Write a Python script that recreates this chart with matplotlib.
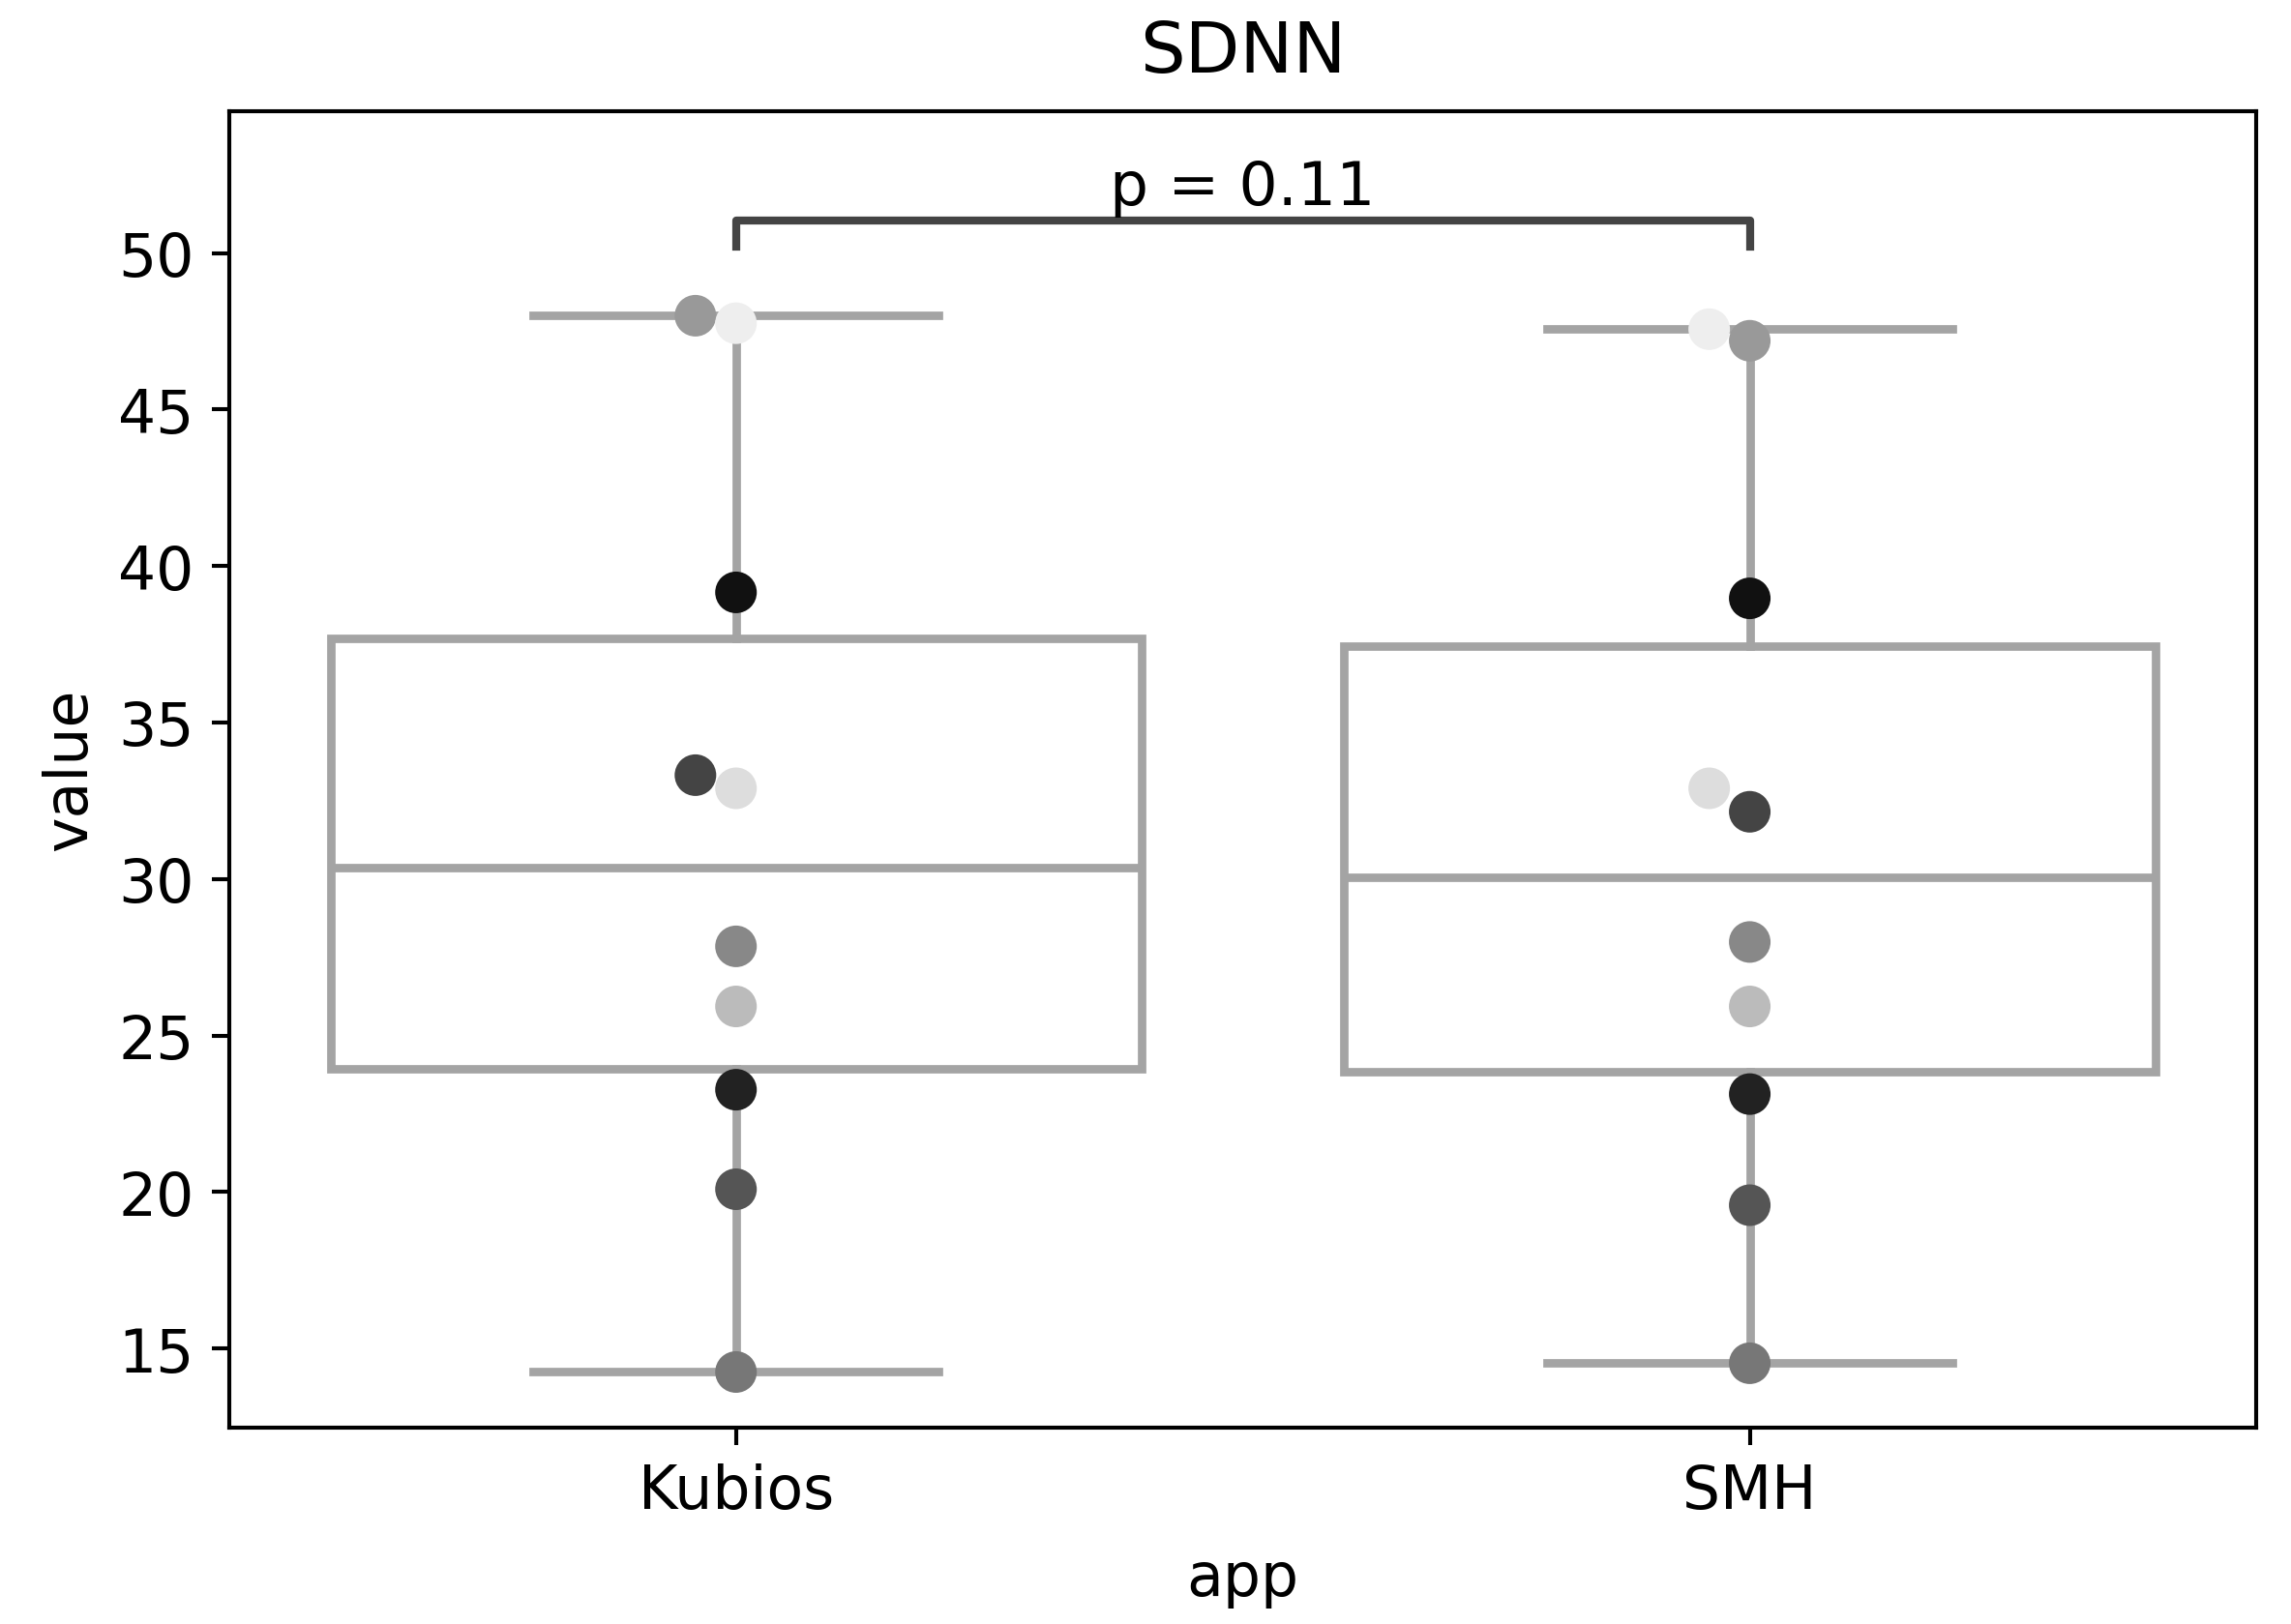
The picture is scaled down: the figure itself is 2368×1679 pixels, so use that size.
import numpy as np
import matplotlib
matplotlib.use("Agg")
import matplotlib.pyplot as plt

# SDNN per subject
apps = ["Kubios", "SMH"]
subject_colors = ["#999999", "#eeeeee", "#111111", "#444444", "#dddddd",
                  "#888888", "#bbbbbb", "#222222", "#555555", "#777777"]
kubios = [48.0, 47.76, 39.16, 33.32, 32.9, 27.85, 25.93, 23.27, 20.09, 14.25]
smh = [47.2, 47.57, 38.97, 32.15, 32.9, 27.99, 25.93, 23.13, 19.58, 14.53]
p_text = "p = 0.11"

plt.rcParams["font.size"] = 12

fig, ax = plt.subplots(figsize=(6.4, 4.54), dpi=370)
fig.subplots_adjust(left=0.1, right=0.985, top=0.931, bottom=0.121)

grey = "#a4a4a4"
ax.boxplot([kubios, smh], positions=[0, 1], widths=0.8, whis=np.inf,
           patch_artist=True, manage_ticks=False,
           boxprops=dict(facecolor="white", edgecolor=grey, linewidth=1.7),
           medianprops=dict(color=grey, linewidth=1.7),
           whiskerprops=dict(color=grey, linewidth=1.7),
           capprops=dict(color=grey, linewidth=1.7), zorder=1)

# simple swarm: lower values sit at the centre, clashing ones shift left
shift = 0.04
for i, vals in enumerate([kubios, smh]):
    order = np.argsort(vals)
    placed = []
    xs = np.zeros(len(vals))
    for j in order:
        x = i
        while any(abs(px - x) < shift / 2 and abs(py - vals[j]) < 1.0 for px, py in placed):
            x -= shift
        xs[j] = x
        placed.append((x, vals[j]))
    ax.scatter(xs, vals, s=70, c=subject_colors, edgecolors="none", zorder=3)

# significance bracket
y0, h = 50.2, 0.85
ax.plot([0, 0, 1, 1], [y0, y0 + h, y0 + h, y0], color="#444444", lw=1.6)
ax.text(0.5, y0 + h + 0.1, p_text, ha="center", va="bottom", fontsize=12.3)

ax.set_xlim(-0.5, 1.5)
ax.set_ylim(12.48, 54.53)
ax.set_xticks([0, 1])
ax.set_xticklabels(apps)
ax.set_yticks([15, 20, 25, 30, 35, 40, 45, 50])
ax.set_title("SDNN", fontsize=14.3, pad=8)
ax.set_xlabel("app", labelpad=6)
ax.set_ylabel("value")

plt.savefig("out.png")
plt.close()
